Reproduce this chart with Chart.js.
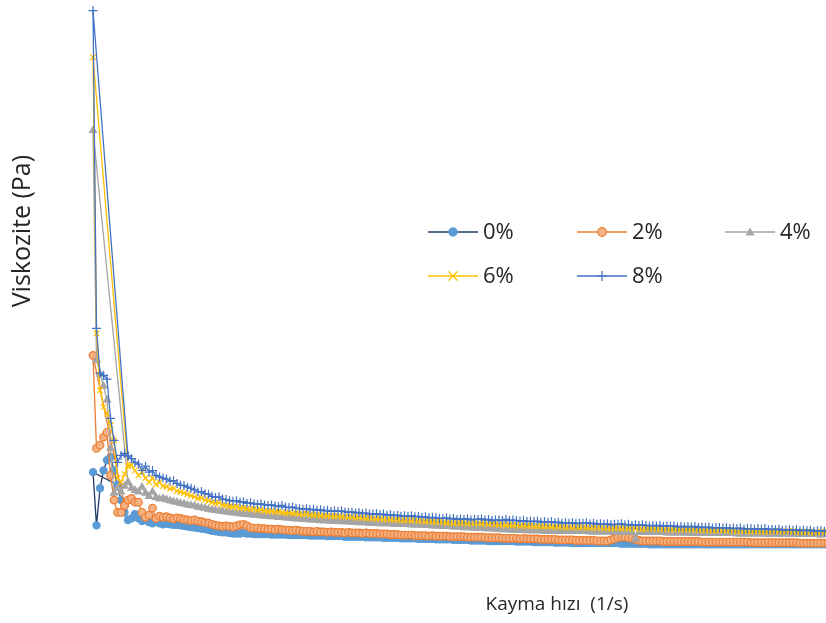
<!DOCTYPE html>
<html>
<head>
<meta charset="utf-8">
<title>Viskozite</title>
<script src="https://cdn.jsdelivr.net/npm/chart.js@4"></script>
<style>
    html, body { margin: 0; padding: 0; background: #fff; }
    #wrap { position: relative; width: 826px; height: 623px; overflow: hidden; }
    #myChart { position: absolute; left: 0; top: -100px; }
</style>
</head>
<body>
<div id="wrap"><canvas id="myChart" width="1040" height="723"></canvas></div>
<script>
const seriesLabels = ['0%', '2%', '4%', '6%', '8%'];

// shear rate steps (1/s)
const shearRate = [
    1, 2, 3, 4, 5, 6, 7, 8, 9, 10, 11, 12, 13, 14, 15, 16, 17, 18, 19, 20,
    21, 22, 23, 24, 25, 26, 27, 28, 29, 30, 31, 32, 33, 34, 35, 36, 37, 38, 39, 40,
    41, 42, 43, 44, 45, 46, 47, 48, 49, 50, 51, 52, 53, 54, 55, 56, 57, 58, 59, 60,
    61, 62, 63, 64, 65, 66, 67, 68, 69, 70, 71, 72, 73, 74, 75, 76, 77, 78, 79, 80,
    81, 82, 83, 84, 85, 86, 87, 88, 89, 90, 91, 92, 93, 94, 95, 96, 97, 98, 99, 100,
    101, 102, 103, 104, 105, 106, 107, 108, 109, 110, 111, 112, 113, 114, 115, 116, 117, 118, 119, 120,
    121, 122, 123, 124, 125, 126, 127, 128, 129, 130, 131, 132, 133, 134, 135, 136, 137, 138, 139, 140,
    141, 142, 143, 144, 145, 146, 147, 148, 149, 150, 151, 152, 153, 154, 155, 156, 157, 158, 159, 160,
    161, 162, 163, 164, 165, 166, 167, 168, 169, 170, 171, 172, 173, 174, 175, 176, 177, 178, 179, 180,
    181, 182, 183, 184, 185, 186, 187, 188, 189, 190, 191, 192, 193, 194, 195, 196, 197, 198, 199, 200,
    201, 202, 203, 204, 205, 206, 207, 208, 209, 210, 211
];

const visc0 = [
    1.47, 0.48, 1.17, 1.50, 1.69, 1.75, 1.50, 1.23, 0.95, 0.72, 0.58, 0.61, 0.69, 0.61, 0.56, 0.58, 0.54, 0.52, 0.56, 0.52, 0.50,
    0.51, 0.50, 0.49, 0.49, 0.48, 0.47, 0.46, 0.45, 0.44, 0.43,
    0.42, 0.41, 0.40, 0.38, 0.37, 0.36, 0.35, 0.35, 0.34, 0.33,
    0.33, 0.33, 0.34, 0.33, 0.33, 0.32, 0.32, 0.32, 0.32, 0.32,
    0.31, 0.31, 0.31, 0.31, 0.31, 0.30, 0.30, 0.30, 0.30, 0.30,
    0.30, 0.29, 0.29, 0.29, 0.29, 0.29, 0.28, 0.28, 0.28, 0.28,
    0.28, 0.27, 0.27, 0.27, 0.27, 0.27, 0.27, 0.26, 0.26, 0.26,
    0.26, 0.26, 0.25, 0.25, 0.25, 0.25, 0.25, 0.24, 0.24, 0.24,
    0.24, 0.24, 0.23, 0.23, 0.23, 0.23, 0.23, 0.22, 0.22, 0.22,
    0.22, 0.22, 0.21, 0.21, 0.21, 0.21, 0.21, 0.20, 0.20, 0.20,
    0.20, 0.20, 0.19, 0.19, 0.19, 0.19, 0.19, 0.19, 0.19, 0.19,
    0.18, 0.18, 0.18, 0.18, 0.18, 0.17, 0.17, 0.17, 0.17, 0.17,
    0.17, 0.16, 0.16, 0.16, 0.16, 0.16, 0.15, 0.15, 0.15, 0.15,
    0.15, 0.15, 0.15, 0.15, 0.15, 0.15, 0.15, 0.15, 0.15, 0.15,
    0.14, 0.14, 0.14, 0.14, 0.14, 0.14, 0.14, 0.14, 0.13, 0.13,
    0.13, 0.13, 0.13, 0.13, 0.13, 0.13, 0.13, 0.13, 0.13, 0.13,
    0.13, 0.13, 0.13, 0.13, 0.13, 0.13, 0.13, 0.13, 0.13, 0.13,
    0.13, 0.13, 0.13, 0.13, 0.13, 0.13, 0.13, 0.13, 0.13, 0.13,
    0.13, 0.13, 0.13, 0.13, 0.13, 0.13, 0.13, 0.13, 0.13, 0.13,
    0.13, 0.13, 0.13, 0.13, 0.13, 0.13, 0.13, 0.13, 0.13, 0.13
];

const visc2 = [
    3.64, 1.91, 1.97, 2.12, 2.21, 1.41, 0.95, 0.72, 0.72, 0.85, 0.95, 0.98, 0.91, 0.91, 0.72, 0.63, 0.67, 0.80, 0.61, 0.65, 0.63,
    0.64, 0.62, 0.60, 0.62, 0.61, 0.59, 0.58, 0.57, 0.58, 0.56,
    0.55, 0.53, 0.52, 0.50, 0.48, 0.47, 0.46, 0.47, 0.46, 0.45,
    0.47, 0.49, 0.50, 0.47, 0.44, 0.43, 0.43, 0.42, 0.42, 0.41,
    0.41, 0.40, 0.41, 0.40, 0.39, 0.39, 0.38, 0.39, 0.38, 0.37,
    0.37, 0.37, 0.36, 0.37, 0.36, 0.36, 0.35, 0.36, 0.35, 0.35,
    0.35, 0.34, 0.35, 0.34, 0.34, 0.34, 0.33, 0.34, 0.33, 0.33,
    0.33, 0.32, 0.32, 0.32, 0.31, 0.31, 0.31, 0.30, 0.30, 0.30,
    0.30, 0.29, 0.29, 0.29, 0.29, 0.28, 0.29, 0.28, 0.28, 0.28,
    0.28, 0.27, 0.27, 0.27, 0.27, 0.27, 0.26, 0.26, 0.26, 0.26,
    0.26, 0.25, 0.25, 0.25, 0.25, 0.25, 0.24, 0.24, 0.24, 0.24,
    0.24, 0.23, 0.24, 0.23, 0.23, 0.23, 0.23, 0.22, 0.22, 0.22,
    0.22, 0.22, 0.21, 0.21, 0.21, 0.21, 0.21, 0.20, 0.20, 0.20,
    0.20, 0.20, 0.20, 0.19, 0.19, 0.19, 0.19, 0.21, 0.23, 0.25,
    0.26, 0.26, 0.25, 0.24, 0.22, 0.20, 0.19, 0.19, 0.19, 0.19,
    0.19, 0.19, 0.18, 0.18, 0.18, 0.18, 0.18, 0.18, 0.18, 0.18,
    0.18, 0.18, 0.18, 0.17, 0.17, 0.17, 0.17, 0.17, 0.17, 0.17,
    0.17, 0.17, 0.17, 0.17, 0.17, 0.17, 0.17, 0.16, 0.16, 0.16,
    0.16, 0.16, 0.16, 0.16, 0.16, 0.16, 0.16, 0.16, 0.16, 0.16,
    0.16, 0.15, 0.15, 0.15, 0.15, 0.15, 0.15, 0.15, 0.15, 0.15
];

const visc4 = [
    7.82, 3.55, 3.29, 3.07, 2.81, 1.91, 1.08, 1.17, 1.10, 1.21, 1.28, 1.17, 1.13, 1.10, 1.19, 1.08, 1.02, 1.10, 1.00, 0.97, 0.98,
    0.96, 0.94, 0.92, 0.91, 0.89, 0.88, 0.86, 0.85, 0.84, 0.82,
    0.81, 0.80, 0.78, 0.77, 0.76, 0.75, 0.74, 0.73, 0.72, 0.71,
    0.71, 0.70, 0.69, 0.69, 0.68, 0.67, 0.67, 0.66, 0.65, 0.65,
    0.64, 0.64, 0.63, 0.63, 0.62, 0.62, 0.61, 0.60, 0.60, 0.59,
    0.59, 0.58, 0.58, 0.58, 0.57, 0.57, 0.57, 0.56, 0.56, 0.56,
    0.55, 0.55, 0.55, 0.54, 0.54, 0.53, 0.53, 0.53, 0.52, 0.52,
    0.52, 0.51, 0.51, 0.51, 0.51, 0.50, 0.50, 0.50, 0.50, 0.50,
    0.49, 0.49, 0.49, 0.48, 0.48, 0.48, 0.47, 0.47, 0.47, 0.46,
    0.46, 0.46, 0.45, 0.45, 0.45, 0.44, 0.44, 0.44, 0.43, 0.43,
    0.43, 0.42, 0.42, 0.42, 0.41, 0.41, 0.40, 0.40, 0.40, 0.39,
    0.39, 0.39, 0.39, 0.38, 0.38, 0.38, 0.38, 0.38, 0.37, 0.37,
    0.37, 0.37, 0.37, 0.37, 0.37, 0.37, 0.37, 0.37, 0.37, 0.37,
    0.37, 0.36, 0.36, 0.36, 0.36, 0.36, 0.36, 0.36, 0.35, 0.35,
    0.35, 0.35, 0.35, 0.35, 0.22, 0.35, 0.35, 0.35, 0.35, 0.35,
    0.35, 0.35, 0.35, 0.34, 0.34, 0.34, 0.34, 0.34, 0.34, 0.34,
    0.33, 0.33, 0.33, 0.33, 0.33, 0.33, 0.33, 0.33, 0.33, 0.33,
    0.33, 0.33, 0.33, 0.32, 0.32, 0.32, 0.32, 0.32, 0.32, 0.32,
    0.32, 0.32, 0.31, 0.32, 0.32, 0.31, 0.32, 0.32, 0.31, 0.32,
    0.31, 0.32, 0.31, 0.31, 0.32, 0.31, 0.31, 0.30, 0.31, 0.31
];

const visc6 = [
    9.18, 4.05, 2.99, 2.68, 2.56, 2.34, 2.06, 1.36, 1.28, 1.43, 1.58, 1.60, 1.50, 1.41, 1.47, 1.36, 1.28, 1.36, 1.24, 1.28, 1.21,
    1.20, 1.16, 1.17, 1.12, 1.10, 1.08, 1.06, 1.03, 1.01, 0.98,
    0.99, 0.95, 0.94, 0.91, 0.89, 0.90, 0.86, 0.85, 0.83, 0.82,
    0.83, 0.80, 0.81, 0.79, 0.78, 0.79, 0.76, 0.77, 0.75, 0.74,
    0.75, 0.73, 0.74, 0.72, 0.71, 0.72, 0.70, 0.71, 0.69, 0.69,
    0.70, 0.68, 0.67, 0.68, 0.66, 0.67, 0.66, 0.65, 0.66, 0.65,
    0.64, 0.65, 0.63, 0.64, 0.62, 0.63, 0.62, 0.61, 0.62, 0.61,
    0.60, 0.61, 0.59, 0.60, 0.59, 0.58, 0.59, 0.57, 0.58, 0.58,
    0.57, 0.58, 0.56, 0.57, 0.55, 0.56, 0.55, 0.54, 0.55, 0.54,
    0.53, 0.54, 0.52, 0.53, 0.52, 0.53, 0.51, 0.52, 0.52, 0.52,
    0.51, 0.52, 0.50, 0.51, 0.50, 0.49, 0.50, 0.48, 0.49, 0.48,
    0.49, 0.47, 0.48, 0.47, 0.48, 0.46, 0.47, 0.46, 0.47, 0.46,
    0.45, 0.46, 0.45, 0.46, 0.44, 0.45, 0.44, 0.45, 0.44, 0.45,
    0.44, 0.43, 0.44, 0.43, 0.44, 0.42, 0.43, 0.42, 0.43, 0.43,
    0.42, 0.43, 0.42, 0.43, 0.42, 0.43, 0.41, 0.42, 0.43, 0.42,
    0.41, 0.42, 0.41, 0.42, 0.40, 0.41, 0.42, 0.40, 0.41, 0.41,
    0.40, 0.41, 0.39, 0.40, 0.39, 0.40, 0.38, 0.39, 0.40, 0.39,
    0.38, 0.39, 0.38, 0.37, 0.38, 0.37, 0.38, 0.36, 0.37, 0.37,
    0.36, 0.37, 0.36, 0.37, 0.38, 0.36, 0.37, 0.36, 0.37, 0.37,
    0.36, 0.35, 0.36, 0.35, 0.36, 0.34, 0.35, 0.36, 0.35, 0.35
];

const visc8 = [
    10.05, 4.14, 3.31, 3.27, 3.20, 2.47, 2.06, 1.65, 1.78, 1.82, 1.77, 1.72, 1.65, 1.62, 1.50, 1.58, 1.47, 1.50, 1.41, 1.38, 1.36,
    1.34, 1.30, 1.31, 1.26, 1.23, 1.22, 1.19, 1.17, 1.14, 1.10,
    1.11, 1.07, 1.06, 1.02, 1.00, 1.01, 0.97, 0.96, 0.94, 0.93,
    0.94, 0.91, 0.92, 0.89, 0.90, 0.88, 0.87, 0.88, 0.86, 0.85,
    0.86, 0.84, 0.83, 0.85, 0.82, 0.81, 0.82, 0.80, 0.79, 0.78,
    0.79, 0.77, 0.78, 0.76, 0.77, 0.75, 0.76, 0.74, 0.75, 0.74,
    0.75, 0.73, 0.72, 0.73, 0.71, 0.72, 0.70, 0.71, 0.69, 0.69,
    0.70, 0.68, 0.69, 0.67, 0.68, 0.66, 0.67, 0.65, 0.66, 0.65,
    0.66, 0.64, 0.65, 0.63, 0.64, 0.62, 0.63, 0.62, 0.61, 0.61,
    0.62, 0.60, 0.61, 0.59, 0.60, 0.59, 0.60, 0.58, 0.59, 0.59,
    0.60, 0.58, 0.59, 0.57, 0.58, 0.58, 0.57, 0.59, 0.57, 0.58,
    0.57, 0.56, 0.57, 0.55, 0.56, 0.55, 0.56, 0.54, 0.55, 0.54,
    0.55, 0.53, 0.54, 0.52, 0.53, 0.52, 0.53, 0.51, 0.52, 0.52,
    0.53, 0.51, 0.52, 0.50, 0.51, 0.50, 0.51, 0.49, 0.50, 0.50,
    0.51, 0.49, 0.50, 0.48, 0.49, 0.48, 0.49, 0.48, 0.47, 0.48,
    0.47, 0.48, 0.46, 0.47, 0.46, 0.47, 0.45, 0.46, 0.45, 0.46,
    0.45, 0.46, 0.44, 0.45, 0.44, 0.45, 0.43, 0.44, 0.44, 0.43,
    0.44, 0.42, 0.43, 0.42, 0.43, 0.41, 0.42, 0.42, 0.41, 0.42,
    0.41, 0.42, 0.40, 0.41, 0.40, 0.41, 0.39, 0.40, 0.40, 0.39,
    0.40, 0.38, 0.39, 0.38, 0.39, 0.37, 0.38, 0.38, 0.37, 0.38
];

// the first logged row of each run (index into shearRate) before the ramp
const leadIndex = [7, 9, 10, 10, 10];

const lineColors = ['#203864', '#ED7D31', '#A5A5A5', '#FFC000', '#4472C4'];
const markerFill = ['#5B9BD5', '#F4B183', '#A5A5A5', '#FFC000', '#4472C4'];
const markerEdge = ['#5B9BD5', '#ED7D31', '#A5A5A5', '#FFC000', '#4472C4'];
const markerStyle = ['circle', 'circle', 'triangle', 'crossRot', 'cross'];
const markerSize = [3.6, 3.8, 4, 4, 4.5];

function buildPoints(values, lead) {
    const pts = [{ x: shearRate[lead], y: values[lead] }];
    values.forEach((v, i) => pts.push({ x: shearRate[i], y: v }));
    return pts;
}

const allSeries = [visc0, visc2, visc4, visc6, visc8];

const datasets = allSeries.map((vals, k) => ({
    label: seriesLabels[k],
    data: buildPoints(vals, leadIndex[k]),
    showLine: true,
    borderColor: lineColors[k],
    borderWidth: 1.3,
    backgroundColor: markerFill[k],
    pointBackgroundColor: markerFill[k],
    pointBorderColor: markerEdge[k],
    pointBorderWidth: 1.2,
    pointStyle: markerStyle[k],
    pointRadius: markerSize[k],
    tension: 0,
    order: 4 - k
}));

// legend drawn inside the plot, three columns
const legendPos = [
    [428, 332], [577, 332], [725, 332],
    [428, 376], [577, 376]
];

function drawMarker(ctx, style, x, y, r) {
    ctx.beginPath();
    if (style === 'circle') {
        ctx.arc(x, y, r, 0, Math.PI * 2);
        ctx.fill();
        ctx.stroke();
    } else if (style === 'triangle') {
        ctx.moveTo(x, y - r);
        ctx.lineTo(x + r, y + r * 0.8);
        ctx.lineTo(x - r, y + r * 0.8);
        ctx.closePath();
        ctx.fill();
    } else if (style === 'crossRot') {
        ctx.moveTo(x - r, y - r); ctx.lineTo(x + r, y + r);
        ctx.moveTo(x + r, y - r); ctx.lineTo(x - r, y + r);
        ctx.stroke();
    } else {
        ctx.moveTo(x, y - r); ctx.lineTo(x, y + r);
        ctx.moveTo(x - r, y); ctx.lineTo(x + r, y);
        ctx.stroke();
    }
}

const legendPlugin = {
    id: 'insideLegend',
    afterDraw(chart) {
        const ctx = chart.ctx;
        ctx.save();
        seriesLabels.forEach((lab, k) => {
            const [x, y] = legendPos[k];
            ctx.strokeStyle = lineColors[k];
            ctx.lineWidth = 1.5;
            ctx.beginPath();
            ctx.moveTo(x, y);
            ctx.lineTo(x + 50, y);
            ctx.stroke();
            ctx.fillStyle = markerFill[k];
            ctx.strokeStyle = markerEdge[k];
            ctx.lineWidth = 1.2;
            drawMarker(ctx, markerStyle[k], x + 25, y, markerSize[k] + 0.5);
            ctx.fillStyle = '#262626';
            ctx.font = '22px "Open Sans"';
            ctx.textBaseline = 'middle';
            ctx.textAlign = 'left';
            ctx.fillText(lab, x + 55, y + 1);
        });
        ctx.restore();
    }
};

const ctx = document.getElementById('myChart').getContext('2d');
new Chart(ctx, {
    type: 'scatter',
    data: { datasets: datasets },
    options: {
        responsive: false,
        animation: false,
        devicePixelRatio: 1,
        layout: { padding: { left: 4, right: 14, top: 11, bottom: 0 } },
        plugins: {
            legend: { display: false },
            tooltip: { enabled: false }
        },
        scales: {
            x: {
                type: 'linear',
                min: -0.43,
                max: 267.6,
                grid: { display: false, drawTicks: false },
                border: { display: false },
                ticks: { display: false },
                title: {
                    display: true,
                    text: 'Kayma hızı  (1/s)',
                    color: '#262626',
                    font: { family: 'Open Sans', size: 19 },
                    padding: { top: 42, bottom: 7 }
                }
            },
            y: {
                min: 0,
                max: 11.9,
                grid: { display: false, drawTicks: false },
                border: { display: false },
                ticks: { display: false },
                title: {
                    display: true,
                    text: 'Viskozite (Pa)',
                    color: '#262626',
                    font: { family: 'Open Sans', size: 25 },
                    padding: { top: 4, bottom: 50 }
                }
            }
        }
    },
    plugins: [legendPlugin]
});
</script>
</body>
</html>
